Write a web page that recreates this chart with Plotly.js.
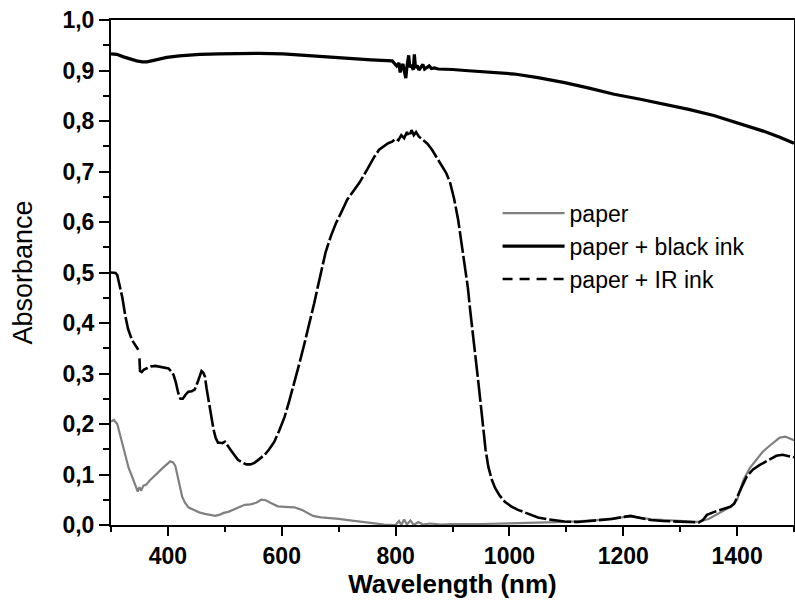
<!DOCTYPE html>
<html>
<head>
<meta charset="utf-8">
<script src="https://cdn.plot.ly/plotly-3.0.1.min.js"></script>
<style>html,body{margin:0;padding:0;background:#fff;}#chart{width:795px;height:605px;}</style>
</head>
<body>
<div id="chart"></div>
<script>
// Wavelength (nm) and absorbance values
const paperWl = [300,305,311,318,325,331,337,343,347,350,353,357,362,368,374,380,386,392,398,404,409,413,417,421,425,430,436,445,455,465,475,483,490,498,506,515,525,535,545,555,564,572,580,593,605,622,635,645,655,669,685,700,720,740,760,780,800,806,810,815,820,826,832,840,848,860,880,900,950,1000,1050,1100,1150,1213,1250,1300,1330,1350,1370,1390,1400,1411,1422,1434,1445,1455,1465,1475,1485,1494,1500];
const paperAbs = [0.205,0.208,0.200,0.168,0.135,0.113,0.096,0.080,0.066,0.075,0.068,0.078,0.080,0.088,0.095,0.101,0.108,0.114,0.120,0.126,0.124,0.117,0.097,0.076,0.056,0.044,0.035,0.030,0.025,0.022,0.019,0.018,0.020,0.024,0.026,0.030,0.035,0.040,0.041,0.044,0.050,0.049,0.044,0.037,0.036,0.035,0.030,0.024,0.018,0.015,0.014,0.012,0.009,0.006,0.003,0.001,0.000,0.008,0.000,0.011,0.001,0.009,0.000,0.006,0.001,0.003,0.001,0.002,0.002,0.003,0.004,0.006,0.009,0.017,0.011,0.007,0.006,0.012,0.025,0.037,0.050,0.089,0.112,0.129,0.145,0.155,0.164,0.173,0.175,0.170,0.168];

const blackWl = [300,310,322,335,345,355,363,375,385,398,420,456,490,526,560,602,640,689,720,757,794,798,802,806,808,810,813,815,818,820,823,825,828,831,833,835,838,841,845,848,851,855,859,863,868,875,885,900,922,950,975,1009,1050,1097,1140,1184,1230,1271,1315,1359,1400,1446,1475,1500];
const blackAbs = [0.933,0.932,0.927,0.922,0.919,0.917,0.917,0.920,0.923,0.926,0.929,0.932,0.933,0.934,0.934,0.933,0.930,0.925,0.923,0.921,0.919,0.913,0.909,0.915,0.896,0.907,0.913,0.900,0.885,0.908,0.930,0.906,0.911,0.901,0.932,0.905,0.910,0.901,0.907,0.912,0.903,0.906,0.909,0.904,0.905,0.903,0.903,0.902,0.900,0.898,0.896,0.893,0.886,0.876,0.865,0.853,0.843,0.834,0.823,0.811,0.797,0.780,0.768,0.756];

const irWl = [300,303,308,311,315,320,325,330,337,343,348,349,350,351,354,358,364,370,378,386,394,401,406,410,414,418,422,426,431,436,442,447,452,456,459,462,465,468,472,476,480,484,488,492,496,500,505,510,517,523,530,538,545,552,560,570,578,587,596,605,613,622,631,640,649,657,663,669,677,686,695,705,715,725,736,745,753,762,771,780,787,794,800,805,810,815,820,824,828,832,836,841,848,856,864,872,881,889,896,903,910,916,922,927,931,936,941,945,950,954,958,963,969,975,983,992,1003,1015,1030,1050,1070,1097,1120,1140,1155,1180,1200,1213,1230,1248,1270,1300,1320,1333,1340,1347,1360,1375,1388,1395,1400,1408,1417,1428,1440,1455,1469,1480,1493,1500];
const irAbs = [0.500,0.500,0.499,0.495,0.475,0.450,0.415,0.388,0.366,0.355,0.347,null,0.330,0.305,0.303,0.308,0.311,0.314,0.315,0.313,0.312,0.310,0.304,0.297,0.282,0.262,0.250,0.250,0.258,0.264,0.265,0.268,0.282,0.298,0.305,0.302,0.294,0.270,0.240,0.218,0.190,0.172,0.163,0.163,0.162,0.165,0.158,0.149,0.138,0.129,0.124,0.120,0.120,0.123,0.130,0.139,0.150,0.165,0.188,0.214,0.245,0.280,0.320,0.360,0.400,0.439,0.470,0.500,0.540,0.571,0.597,0.620,0.644,0.660,0.677,0.694,0.710,0.728,0.743,0.750,0.756,0.759,0.765,0.762,0.772,0.766,0.778,0.770,0.782,0.772,0.778,0.769,0.763,0.755,0.743,0.728,0.713,0.697,0.677,0.645,0.604,0.560,0.511,0.470,0.426,0.380,0.330,0.287,0.235,0.188,0.150,0.115,0.090,0.073,0.058,0.046,0.037,0.030,0.023,0.015,0.011,0.007,0.006,0.008,0.010,0.012,0.016,0.018,0.014,0.010,0.008,0.007,0.005,0.005,0.010,0.020,0.026,0.031,0.036,0.042,0.056,0.075,0.096,0.110,0.119,0.128,0.137,0.139,0.136,0.134];

const seriesNames = ['paper', 'paper + black ink', 'paper + IR ink'];

// Tick positions and labels
const xTickVals = [400, 600, 800, 1000, 1200, 1400];
const xTickText = ['400', '600', '800', '1000', '1200', '1400'];
const yTickVals = [0, 0.1, 0.2, 0.3, 0.4, 0.5, 0.6, 0.7, 0.8, 0.9, 1.0];
const yTickText = ['0,0', '0,1', '0,2', '0,3', '0,4', '0,5', '0,6', '0,7', '0,8', '0,9', '1,0'];

const FONT = 'Liberation Sans, Arial, sans-serif';
const bold = s => '<b>' + s + '</b>';

const traces = [
  {x: paperWl, y: paperAbs, name: seriesNames[0], type: 'scatter', mode: 'lines',
   line: {color: '#808080', width: 2.2}},
  {x: blackWl, y: blackAbs, name: seriesNames[1], type: 'scatter', mode: 'lines',
   line: {color: '#000000', width: 3.2}},
  {x: irWl, y: irAbs, name: seriesNames[2], type: 'scatter', mode: 'lines', showlegend: false,
   connectgaps: false, line: {color: '#000000', width: 2.6, dash: '22px,3px'}},
  {x: [null], y: [null], name: seriesNames[2], type: 'scatter', mode: 'lines',
   line: {color: '#000000', width: 2.6, dash: '10px,7px'}}
];

const layout = {
  width: 795, height: 605,
  margin: {l: 111, r: 1, t: 20, b: 80},
  paper_bgcolor: '#ffffff', plot_bgcolor: '#ffffff',
  font: {family: FONT, color: '#000'},
  showlegend: true,
  legend: {x: 0.566, y: 0.66, xanchor: 'left', yanchor: 'top', bgcolor: 'rgba(0,0,0,0)',
    font: {family: FONT, size: 23, color: '#000'}, itemwidth: 62, tracegroupgap: 0},
  xaxis: {
    range: [300, 1500], tickmode: 'array', tickvals: xTickVals, ticktext: xTickText.map(bold),
    showgrid: false, zeroline: false,
    showline: true, linecolor: '#000', linewidth: 2, mirror: true,
    ticks: 'outside', ticklen: 9, tickwidth: 2, tickcolor: '#000',
    minor: {tick0: 0, dtick: 100, ticks: 'outside', ticklen: 5, tickwidth: 2, tickcolor: '#000', showgrid: false},
    tickfont: {family: FONT, size: 23, color: '#000'},
    title: {text: '<b>Wavelength (nm)</b>', font: {family: FONT, size: 26, color: '#000'}, standoff: 6}
  },
  yaxis: {
    range: [0, 1.0], tickmode: 'array', tickvals: yTickVals, ticktext: yTickText.map(bold),
    showgrid: false, zeroline: false,
    showline: true, linecolor: '#000', linewidth: 2, mirror: true,
    ticks: 'outside', ticklen: 10, tickwidth: 2, tickcolor: '#000',
    minor: {tick0: 0, dtick: 0.05, ticks: 'outside', ticklen: 6, tickwidth: 2, tickcolor: '#000', showgrid: false},
    tickfont: {family: FONT, size: 23, color: '#000'},
    title: {text: 'Absorbance', font: {family: FONT, size: 27, color: '#000'}, standoff: 22}
  }
};

Plotly.newPlot('chart', traces, layout, {staticPlot: true, displayModeBar: false});
</script>
</body>
</html>
